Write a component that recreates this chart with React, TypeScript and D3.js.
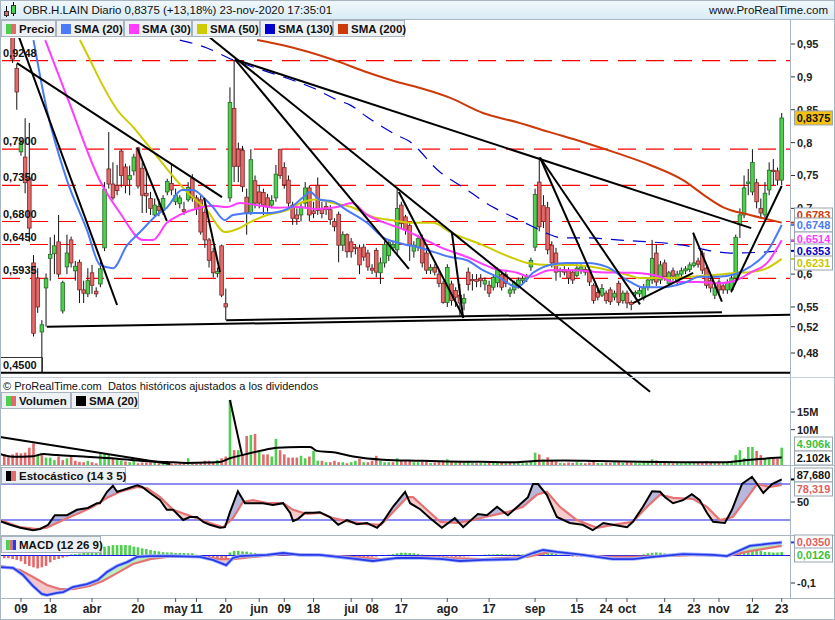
import React from 'react';
import * as d3 from 'd3';

// ---------- DATA ----------
const FIRST_K = -2; // index of first candle on the trading-day axis (k=184 is 23-nov-2020)
// [open, high, low, close]
const CANDLES: [number, number, number, number][] = [
  [1.00, 1.02, 0.97, 0.98], [0.99, 1.00, 0.96, 0.97], [0.975, 0.98, 0.921, 0.927], [0.913, 0.92, 0.85, 0.877],
  [0.786, 0.805, 0.78, 0.80], [0.778, 0.837, 0.723, 0.739], [0.746, 0.83, 0.649, 0.67], [0.617, 0.629, 0.505, 0.51],
  [0.594, 0.609, 0.541, 0.55], [0.512, 0.53, 0.45, 0.523], [0.579, 0.601, 0.52, 0.593], [0.624, 0.656, 0.59, 0.63],
  [0.631, 0.66, 0.60, 0.643], [0.649, 0.69, 0.595, 0.60], [0.544, 0.59, 0.54, 0.587], [0.611, 0.66, 0.60, 0.632],
  [0.652, 0.657, 0.61, 0.617], [0.605, 0.62, 0.59, 0.612], [0.618, 0.622, 0.556, 0.576], [0.576, 0.59, 0.556, 0.571],
  [0.57, 0.609, 0.565, 0.59], [0.602, 0.614, 0.57, 0.583], [0.574, 0.58, 0.565, 0.57], [0.585, 0.621, 0.58, 0.608],
  [0.64, 0.74, 0.635, 0.729], [0.76, 0.816, 0.73, 0.737], [0.737, 0.77, 0.713, 0.716], [0.735, 0.766, 0.72, 0.727],
  [0.787, 0.79, 0.732, 0.75], [0.763, 0.768, 0.723, 0.735], [0.744, 0.765, 0.72, 0.75], [0.757, 0.783, 0.75, 0.778],
  [0.792, 0.793, 0.73, 0.734], [0.761, 0.77, 0.693, 0.72], [0.723, 0.76, 0.693, 0.719], [0.715, 0.725, 0.69, 0.70],
  [0.69, 0.715, 0.688, 0.705], [0.703, 0.714, 0.688, 0.697], [0.697, 0.72, 0.69, 0.715], [0.725, 0.745, 0.72, 0.741],
  [0.738, 0.766, 0.72, 0.728], [0.71, 0.73, 0.705, 0.72], [0.707, 0.72, 0.70, 0.716], [0.698, 0.71, 0.69, 0.695],
  [0.713, 0.74, 0.71, 0.732], [0.746, 0.752, 0.71, 0.716], [0.716, 0.72, 0.69, 0.699], [0.713, 0.72, 0.66, 0.664],
  [0.694, 0.713, 0.64, 0.652], [0.652, 0.655, 0.61, 0.621], [0.634, 0.64, 0.595, 0.602], [0.601, 0.61, 0.595, 0.604],
  [0.643, 0.645, 0.565, 0.568], [0.555, 0.578, 0.53, 0.55], [0.716, 0.884, 0.71, 0.861], [0.852, 0.9248, 0.74, 0.764],
  [0.79, 0.80, 0.74, 0.764], [0.788, 0.795, 0.725, 0.733], [0.717, 0.73, 0.66, 0.693], [0.693, 0.79, 0.69, 0.774],
  [0.742, 0.75, 0.70, 0.708], [0.725, 0.735, 0.70, 0.708], [0.724, 0.73, 0.69, 0.705], [0.716, 0.722, 0.695, 0.702],
  [0.705, 0.72, 0.70, 0.712], [0.716, 0.766, 0.71, 0.752], [0.79, 0.79, 0.745, 0.75], [0.762, 0.77, 0.73, 0.736],
  [0.743, 0.75, 0.70, 0.708], [0.705, 0.71, 0.675, 0.685], [0.69, 0.70, 0.675, 0.684], [0.69, 0.71, 0.68, 0.702],
  [0.708, 0.74, 0.70, 0.731], [0.731, 0.735, 0.68, 0.69], [0.696, 0.71, 0.685, 0.692], [0.735, 0.747, 0.69, 0.697],
  [0.70, 0.71, 0.685, 0.692], [0.703, 0.71, 0.69, 0.698], [0.698, 0.705, 0.675, 0.683], [0.68, 0.685, 0.665, 0.672],
  [0.691, 0.695, 0.618, 0.644], [0.644, 0.665, 0.635, 0.66], [0.66, 0.662, 0.625, 0.634], [0.649, 0.655, 0.625, 0.634],
  [0.641, 0.645, 0.63, 0.639], [0.64, 0.645, 0.60, 0.614], [0.641, 0.646, 0.62, 0.626], [0.632, 0.637, 0.605, 0.611],
  [0.609, 0.615, 0.60, 0.606], [0.636, 0.64, 0.595, 0.603], [0.602, 0.625, 0.585, 0.617], [0.617, 0.65, 0.61, 0.645],
  [0.628, 0.652, 0.62, 0.648], [0.64, 0.65, 0.635, 0.645], [0.637, 0.73, 0.63, 0.70], [0.705, 0.71, 0.67, 0.677],
  [0.687, 0.69, 0.66, 0.667], [0.674, 0.68, 0.62, 0.644], [0.635, 0.65, 0.625, 0.644], [0.641, 0.66, 0.635, 0.654],
  [0.654, 0.66, 0.61, 0.617], [0.632, 0.64, 0.60, 0.606], [0.606, 0.615, 0.60, 0.61], [0.61, 0.615, 0.598, 0.603],
  [0.60, 0.605, 0.58, 0.586], [0.586, 0.59, 0.555, 0.557], [0.557, 0.615, 0.55, 0.61], [0.585, 0.59, 0.552, 0.56],
  [0.575, 0.58, 0.55, 0.565], [0.568, 0.585, 0.535, 0.556], [0.556, 0.57, 0.545, 0.563], [0.603, 0.61, 0.575, 0.584],
  [0.592, 0.60, 0.575, 0.59], [0.592, 0.60, 0.58, 0.589], [0.593, 0.60, 0.58, 0.59], [0.585, 0.595, 0.575, 0.59],
  [0.583, 0.59, 0.565, 0.571], [0.58, 0.60, 0.575, 0.595], [0.587, 0.61, 0.58, 0.606], [0.599, 0.605, 0.575, 0.58],
  [0.599, 0.605, 0.58, 0.586], [0.571, 0.58, 0.565, 0.576], [0.576, 0.59, 0.57, 0.587], [0.583, 0.595, 0.578, 0.591],
  [0.59, 0.597, 0.585, 0.593], [0.593, 0.60, 0.588, 0.596], [0.611, 0.625, 0.605, 0.621], [0.641, 0.73, 0.635, 0.721],
  [0.74, 0.778, 0.665, 0.672], [0.704, 0.72, 0.67, 0.68], [0.701, 0.71, 0.63, 0.637], [0.644, 0.65, 0.61, 0.617],
  [0.632, 0.64, 0.59, 0.603], [0.604, 0.61, 0.595, 0.606], [0.607, 0.612, 0.598, 0.603], [0.605, 0.61, 0.585, 0.594],
  [0.603, 0.607, 0.585, 0.591], [0.598, 0.615, 0.595, 0.609], [0.606, 0.615, 0.60, 0.611], [0.607, 0.612, 0.598, 0.603],
  [0.606, 0.61, 0.582, 0.588], [0.583, 0.586, 0.555, 0.56], [0.572, 0.577, 0.56, 0.565], [0.568, 0.585, 0.565, 0.578],
  [0.571, 0.575, 0.555, 0.56], [0.576, 0.58, 0.553, 0.558], [0.565, 0.575, 0.56, 0.571], [0.586, 0.59, 0.552, 0.557],
  [0.56, 0.575, 0.555, 0.571], [0.571, 0.575, 0.548, 0.556], [0.557, 0.56, 0.545, 0.554], [0.57, 0.575, 0.565, 0.572],
  [0.57, 0.58, 0.565, 0.575], [0.564, 0.585, 0.56, 0.579], [0.58, 0.595, 0.575, 0.591], [0.591, 0.652, 0.585, 0.624],
  [0.632, 0.645, 0.582, 0.588], [0.591, 0.62, 0.585, 0.614], [0.617, 0.622, 0.59, 0.596], [0.586, 0.605, 0.58, 0.602],
  [0.605, 0.61, 0.59, 0.597], [0.59, 0.605, 0.585, 0.60], [0.60, 0.61, 0.595, 0.605], [0.605, 0.612, 0.60, 0.608],
  [0.607, 0.618, 0.603, 0.614], [0.613, 0.66, 0.61, 0.617], [0.62, 0.625, 0.61, 0.615], [0.632, 0.636, 0.60, 0.606],
  [0.609, 0.612, 0.578, 0.583], [0.59, 0.595, 0.572, 0.579], [0.568, 0.582, 0.562, 0.579], [0.588, 0.592, 0.57, 0.576],
  [0.582, 0.585, 0.57, 0.576], [0.576, 0.592, 0.57, 0.587], [0.576, 0.60, 0.572, 0.594], [0.594, 0.66, 0.59, 0.656],
  [0.675, 0.70, 0.655, 0.69], [0.69, 0.75, 0.685, 0.731], [0.738, 0.76, 0.72, 0.74], [0.725, 0.79, 0.72, 0.77],
  [0.739, 0.745, 0.70, 0.71], [0.70, 0.715, 0.685, 0.693], [0.69, 0.74, 0.685, 0.723], [0.728, 0.77, 0.72, 0.758],
  [0.758, 0.775, 0.735, 0.756], [0.757, 0.762, 0.735, 0.743], [0.743, 0.845, 0.735, 0.8375],
];

// volume in millions, same index as CANDLES
const VOLUME_M: number[] = [
  3.1, 2.4, 3.0, 3.5, 3.3, 3.5, 4.9, 6.1, 3.0, 3.0, 2.1, 2.1, 1.4, 2.4, 1.4, 1.9, 2.6, 1.2, 0.9, 0.8, 1.2, 0.8, 0.5,
  3.3, 3.3, 2.9, 1.9, 1.4, 1.2, 1.0, 0.8, 1.2, 0.5, 0.7, 0.7, 0.8, 0.8, 0.5, 0.8, 0.5, 0.4, 0.4, 0.5, 0.5, 1.9, 0.4,
  0.4, 0.5, 1.2, 1.2, 0.8, 1.4, 1.9, 2.4, 18.4, 4.2, 4.2, 3.0, 8.2, 8.5, 8.8, 4.2, 3.0, 3.0, 2.4, 7.4, 4.2, 3.0, 2.1,
  2.1, 2.1, 2.6, 1.9, 2.4, 4.0, 1.2, 1.2, 0.8, 0.8, 1.2, 0.8, 0.8, 0.5, 0.8, 1.2, 1.7, 0.8, 0.8, 1.2, 2.6, 1.2, 0.8,
  0.8, 0.8, 1.9, 1.2, 1.2, 1.2, 0.8, 0.8,
  1.0, 0.9, 0.6, 0.7, 0.9, 1.3, 1.6, 0.9, 0.8, 1.0, 0.7, 0.9, 0.6, 0.5, 0.6, 0.5, 0.7, 0.8, 0.9, 0.6, 0.5, 0.6, 0.7,
  0.6, 0.5, 0.6, 0.9, 3.5, 3.0, 1.6, 2.2,
  1.2, 1.0, 0.6, 0.5, 0.7, 0.6, 0.8, 0.6, 0.5, 0.7, 1.0, 0.6, 0.5, 0.7, 0.6, 0.8, 0.9, 0.6, 0.9, 0.7, 0.6, 0.5, 0.8, 0.9,
  1.6, 1.3, 0.8, 0.7, 0.6, 0.5, 0.6, 0.5, 0.6, 0.7, 0.9, 0.6, 0.9, 1.1, 0.8, 0.7, 0.8, 0.6, 0.7, 0.8,
  2.8, 4.2, 2.0, 5.1, 5.1, 4.0, 2.8, 1.7, 1.7, 1.7, 1.7, 4.906,
];

// MACD histogram, same index as CANDLES
const MACD_HIST: number[] = [
  -0.010, -0.010, -0.013, -0.016, -0.021, -0.031, -0.038, -0.043, -0.047, -0.043, -0.038, -0.025, -0.016, -0.013, -0.008, -0.004,
  0.004, 0.005, 0.007, 0.009, 0.009, 0.013, 0.016, 0.026, 0.032, 0.035, 0.038, 0.038, 0.038, 0.038, 0.037, 0.032, 0.030, 0.026,
  0.024, 0.020, 0.017, 0.015, 0.012, 0.011, 0.011, 0.009, 0.009, 0.009, 0.008, 0.008, 0.003,
  -0.006, -0.010, -0.010, -0.011, -0.013, -0.016, -0.013,
  0.011, 0.017, 0.017, 0.015, 0.014, 0.011, 0.009, 0.006,
  0.004, 0.003, 0.003, 0.004, 0.004, 0.003, 0.002, 0.001, 0.001, 0.001, 0.000, -0.003, -0.002, 0.001, 0.001, 0.000, -0.001,
  -0.003, -0.005, -0.005, -0.006, -0.006, -0.007, -0.007, -0.006, -0.006, -0.005, -0.004, -0.002, 0.001, 0.003,
  0.005, 0.008, 0.010, 0.010, 0.009, 0.008, 0.006, 0.003, 0.001, -0.002,
  -0.004, -0.005, -0.005, -0.004, -0.004, -0.005, -0.005, -0.004, -0.003, -0.001,
  0.001, 0.002, 0.003, 0.004, 0.004, 0.005, 0.005, 0.004, 0.004, 0.004, 0.004, 0.004, 0.006,
  0.010, 0.018, 0.020, 0.018, 0.015, 0.010, 0.006, 0.003,
  0.000, -0.002, -0.004, -0.004, -0.004, -0.003, -0.003, -0.004, -0.004, -0.004, -0.003,
  -0.004, -0.005, -0.005, -0.005, -0.004, -0.003, -0.001, 0.001,
  0.004, 0.008, 0.010, 0.011, 0.010, 0.008, 0.006, 0.004, 0.003, 0.002,
  0.002, 0.002, 0.002, 0.001, 0.000, -0.002, -0.003, -0.003, -0.002, -0.002, 0.000, 0.002,
  0.006, 0.010, 0.015, 0.020, 0.022, 0.021, 0.017, 0.013, 0.012, 0.011, 0.011, 0.0126,
];

// moving averages sampled as [k, price]
const SMA20: [number, number][] = [[5, 0.956], [8.2, 0.85], [13, 0.743], [17.8, 0.667], [20.9, 0.614], [24, 0.609], [27.4, 0.644], [30.5, 0.664], [34.5, 0.69], [36.9, 0.701], [40.5, 0.728], [43.2, 0.728], [45.6, 0.717], [47.9, 0.702], [50.8, 0.682], [52.7, 0.69], [57.5, 0.693], [61.6, 0.693], [66.4, 0.701], [69.5, 0.717], [71.2, 0.725], [73.5, 0.713], [76.4, 0.711], [80, 0.697], [84.8, 0.678], [88.6, 0.656], [92.7, 0.647], [97.5, 0.64], [104.7, 0.626], [108.7, 0.621], [112.5, 0.606], [116.6, 0.594], [120.7, 0.58], [124.5, 0.602], [128.5, 0.614], [132.6, 0.617], [137.4, 0.617], [142.2, 0.611], [147, 0.591], [150.8, 0.58], [155.6, 0.58], [160.4, 0.586], [164.4, 0.596], [168.5, 0.596], [172.3, 0.599], [176.4, 0.611], [180.5, 0.634], [184, 0.6748]];
const SMA30: [number, number][] = [[7.8, 0.956], [13.3, 0.865], [20.9, 0.742], [25.7, 0.693], [31.2, 0.652], [33.6, 0.652], [36.9, 0.678], [40, 0.69], [44.8, 0.701], [47.9, 0.704], [51.3, 0.702], [54.4, 0.708], [59.2, 0.704], [63.3, 0.701], [68, 0.702], [72.8, 0.699], [77.6, 0.702], [81.2, 0.708], [84.8, 0.69], [88.6, 0.679], [92.7, 0.67], [97.5, 0.656], [102.3, 0.641], [108.7, 0.626], [114.9, 0.609], [120.7, 0.602], [123.8, 0.596], [128.5, 0.606], [134, 0.606], [140.5, 0.603], [148.4, 0.602], [154.9, 0.596], [158, 0.588], [164.4, 0.588], [169.2, 0.586], [173.3, 0.591], [176.4, 0.602], [180.5, 0.617], [184, 0.6514]];
const SMA50: [number, number][] = [[16.1, 0.956], [18.5, 0.926], [20.9, 0.895], [25, 0.85], [28.8, 0.824], [32.9, 0.792], [37.7, 0.754], [41.7, 0.725], [46.5, 0.697], [50.8, 0.664], [53.9, 0.669], [56.8, 0.679], [60.9, 0.69], [65.6, 0.697], [69.5, 0.71], [72.8, 0.714], [76.7, 0.708], [81.5, 0.701], [86.2, 0.687], [91, 0.682], [95.8, 0.678], [100.6, 0.678], [104.7, 0.664], [112.5, 0.644], [119, 0.626], [123.1, 0.617], [128.5, 0.614], [134, 0.614], [140.5, 0.609], [147, 0.599], [150.1, 0.594], [156.6, 0.594], [162.1, 0.596], [168.5, 0.599], [173.3, 0.602], [176.4, 0.603], [180.5, 0.609], [184, 0.6231]];
const SMA130: [number, number][] = [[40, 0.956], [46.5, 0.944], [52.7, 0.926], [57.5, 0.915], [64.7, 0.9], [71.9, 0.883], [77.6, 0.865], [80.8, 0.857], [84.8, 0.839], [92.7, 0.809], [94.4, 0.804], [102.3, 0.755], [107.8, 0.732], [114.9, 0.702], [119.7, 0.687], [124.5, 0.672], [127.8, 0.662], [131.7, 0.655], [137.4, 0.655], [144.6, 0.652], [152.5, 0.649], [160.4, 0.644], [168.5, 0.634], [172.3, 0.632], [184, 0.6353]];
const SMA200: [number, number][] = [[58.5, 0.956], [64.7, 0.948], [76.7, 0.926], [84.8, 0.907], [92.7, 0.891], [97.5, 0.883], [104.7, 0.868], [112.5, 0.845], [120.7, 0.831], [128.5, 0.816], [136.4, 0.801], [144.6, 0.784], [152.5, 0.766], [160.4, 0.743], [166.1, 0.717], [169.9, 0.702], [176.4, 0.69], [184, 0.6783]];

// hand-drawn lines [k1, price1, k2, price2]
const TRENDLINES: [number, number, number, number][] = [
  [0, 0.987, 25, 0.553], [1.05, 0.921, 50.1, 0.717], [29.8, 0.792, 36.9, 0.681], [45.8, 0.716, 49.6, 0.603],
  [53.2, 0.9265, 176.7, 0.67], [53.2, 0.9265, 94.8, 0.608], [45.8, 0.967, 152.5, 0.421], [92.4, 0.725, 107.8, 0.535],
  [105.1, 0.663, 107.8, 0.533], [126.2, 0.777, 140.5, 0.571], [126.2, 0.777, 150.1, 0.554], [148.4, 0.556, 162.8, 0.602],
  [162.8, 0.663, 169.7, 0.558], [171.9, 0.573, 184, 0.734], [8.2, 0.52, 186, 0.538], [51.1, 0.53, 169.7, 0.542],
];
const LOW_LINE = 0.45;
const LEVELS = [0.9248, 0.79, 0.735, 0.68, 0.645, 0.5935];
const LEVEL_LABELS = ['0,9248', '0,7900', '0,7350', '0,6800', '0,6450', '0,5935'];
const PRICE_TICKS = [0.95, 0.9, 0.85, 0.8, 0.75, 0.7, 0.6, 0.55, 0.52, 0.48];

const VOL_SMA20: [number, number][] = [[-3, 3.1], [0, 2.35], [4.9, 2.5], [7.3, 3.1], [10.6, 2.8], [16.9, 2.4], [25, 1.8], [30.5, 1.2], [36.9, 0.85], [41.7, 0.6], [46.5, 0.7], [49.6, 0.85], [52, 1.9], [54.9, 2.8], [59.2, 4.0], [63.3, 4.9], [68.8, 5.1], [71.2, 5.1], [72.8, 4.0], [76.7, 3.6], [81.5, 2.4], [88.6, 1.5], [97.5, 1.2], [104, 1.0], [112, 0.9], [120, 0.8], [126, 1.2], [132, 1.3], [140, 1.1], [150, 0.9], [160, 0.8], [170, 0.8], [176, 1.4], [180, 1.8], [184, 2.102]];
const VOL_LINES: [number, number, number, number][] = [[-3, 7.9, 37.7, 0.3], [52, 18.4, 54.9, 2.8]];
const VOL_TICKS = [15, 10];

const STOCH_K: [number, number][] = [[-3, 18], [-0.6, 12], [1.8, 7], [4.9, 3], [6.6, 5], [8.5, 12], [10.1, 28], [13, 28], [15.4, 37], [18, 40], [20.2, 48], [20.9, 48], [22.6, 67], [24, 77], [25, 67], [26.4, 70], [29.8, 78], [31, 75], [32.9, 65], [35.3, 53], [36.9, 37], [38.4, 37], [40.8, 20], [42.4, 25], [44.1, 25], [45.6, 17], [47.2, 12], [49.6, 7], [50.8, 8], [52, 33], [53.9, 68], [55.6, 48], [57.5, 48], [59.9, 48], [62.3, 45], [64.7, 48], [66.4, 32], [67.1, 18], [68.3, 22], [70, 32], [71.9, 32], [73.5, 33], [75.9, 25], [77.9, 12], [80, 20], [82.4, 13], [84.8, 15], [87.2, 7], [88.6, 17], [91, 42], [93.9, 67], [95.1, 48], [97.5, 38], [99.9, 23], [102.7, 7], [105.8, 23], [107.8, 8], [111.3, 30], [113.5, 28], [115.9, 42], [118.5, 28], [120.9, 43], [123.3, 58], [124.5, 80], [125.7, 80], [127.8, 62], [130.2, 25], [133.3, 15], [136.4, 12], [138.8, 3], [141.3, 15], [143.6, 12], [147, 8], [148.4, 17], [150.8, 42], [153, 68], [154.9, 67], [156.1, 58], [158, 48], [160.4, 53], [162.5, 63], [164.4, 53], [166.1, 32], [167.6, 17], [170.4, 15], [172.1, 37], [174.5, 80], [176.9, 92], [179.6, 65], [181.7, 80], [184, 87.68]];
const STOCH_D: [number, number][] = [[-3, 20], [1.8, 8], [5.8, 5], [8.2, 7], [10.6, 15], [13, 23], [16.1, 32], [19.2, 42], [22.6, 57], [25.7, 67], [29.8, 75], [32.2, 73], [35.3, 58], [38.4, 37], [43.2, 25], [47.2, 15], [50.3, 8], [52.7, 23], [55.1, 50], [57.5, 53], [60.9, 48], [64.7, 48], [67.1, 37], [70.4, 30], [73.5, 32], [76.7, 23], [80.8, 17], [84.8, 13], [88.1, 12], [91, 33], [94.4, 58], [95.8, 58], [99.1, 37], [102.3, 17], [106.3, 15], [110.1, 20], [114.2, 27], [118.3, 33], [122.1, 42], [125.4, 62], [127.8, 67], [130.9, 42], [135, 20], [139.8, 7], [143.6, 12], [148.4, 17], [151.8, 42], [154.9, 62], [158, 57], [162.8, 55], [166.1, 42], [169.2, 20], [172.3, 25], [175.7, 57], [178.1, 80], [181.2, 75], [184, 78.32]];

const MACD_LINE: [number, number][] = [[-3, -0.042], [0.1, -0.045], [2.5, -0.071], [4.9, -0.111], [7, -0.14], [8.2, -0.144], [10.6, -0.136], [12.1, -0.133], [14.4, -0.115], [17.8, -0.104], [20.4, -0.089], [22.6, -0.06], [25, -0.038], [27.4, -0.024], [29.8, -0.005], [32.9, -0.002], [38.4, -0.002], [44.8, -0.005], [47.9, -0.016], [51.1, -0.035], [52.7, -0.009], [54.4, -0.002], [60.9, 0.002], [64.7, 0.009], [68.8, 0.002], [73.5, 0.002], [80, -0.009], [86.2, -0.02], [92, -0.009], [97.5, -0.009], [103, -0.013], [107, -0.02], [112.5, -0.016], [120.7, -0.013], [124.5, 0.009], [126.9, 0.02], [130.2, 0.013], [136.4, 0.002], [143.6, -0.013], [148.4, -0.013], [153.2, -0.005], [160.4, 0.005], [167.6, 0.002], [170.9, -0.002], [176.4, 0.035], [180.5, 0.042], [184, 0.0476]];
const MACD_SIGNAL: [number, number][] = [[-3, -0.038], [1.8, -0.053], [4.9, -0.078], [8.2, -0.107], [11.3, -0.122], [14.4, -0.122], [18.5, -0.111], [21.6, -0.093], [25, -0.064], [28.8, -0.031], [32.9, -0.013], [36.9, -0.005], [44.8, -0.005], [49.6, -0.013], [52.7, -0.013], [57.5, -0.005], [64.7, 0.005], [72.8, 0.002], [80.8, -0.005], [88.1, -0.013], [97.5, -0.005], [104.7, -0.009], [112.5, -0.013], [123.1, -0.005], [128.5, 0.013], [134, 0.005], [142.2, -0.005], [148.4, -0.005], [154.9, -0.002], [164.4, 0.002], [170.9, -0.002], [176.4, 0.016], [184, 0.035]];

const X_LABELS: [number, string][] = [[2, '09'], [9, '18'], [19, 'abr'], [30, '20'], [39, 'may'], [44, '11'], [51, '20'], [59, 'jun'], [65, '09'], [72, '18'], [81, 'jul'], [86, '08'], [93, '17'], [104, 'ago'], [114, '17'], [125, 'sep'], [135, '15'], [142, '24'], [147, 'oct'], [156, '14'], [163, '23'], [169, 'nov'], [177, '12'], [184, '23']];

const C_GREEN = '#4fcf4f';
const C_RED = '#e26a6a';
const C_SMA20 = '#4a7af8';
const C_SMA30 = '#ff3cff';
const C_SMA50 = '#cccc00';
const C_SMA130 = '#0000cc';
const C_SMA200 = '#cc3a0a';
const FONT = 'Liberation Sans, Arial, sans-serif';

const fmt = (v: number) => String(v).replace('.', ',');

export default function App() {
  const x = d3.scaleLinear().domain([0, 184]).range([12.6, 781.7]);
  const yP = d3.scaleLinear().domain([0.48, 0.95]).range([353, 44]);
  const yV = d3.scaleLinear().domain([0, 15]).range([465, 412]);
  const yS = d3.scaleLinear().domain([20, 80]).range([520, 484]);
  const yM = d3.scaleLinear().domain([-0.1, 0]).range([583, 555.5]);
  const PR = 790;

  const lineOf = (pts: [number, number][], ys: any, curve: any = d3.curveMonotoneX) =>
    d3.line<[number, number]>().x(d => x(d[0])).y(d => ys(d[1])).curve(curve)(pts) || '';

  const fillBetween = (a: [number, number][], b: [number, number][], ys: any, top: number, bottom: number, id: string, cAbove: string, cBelow: string) => {
    const A = a.map(d => [x(d[0]), ys(d[1])] as [number, number]);
    const B = b.map(d => [x(d[0]), ys(d[1])] as [number, number]);
    const poly = 'M' + A.concat(B.slice().reverse()).map(p => p.join(',')).join('L') + 'Z';
    const bl = 'M' + B.map(p => p.join(',')).join('L');
    const above = bl + `L${B[B.length - 1][0]},${top}L${B[0][0]},${top}Z`;
    const below = bl + `L${B[B.length - 1][0]},${bottom}L${B[0][0]},${bottom}Z`;
    return (
      <g>
        <defs>
          <clipPath id={id + 'a'}><path d={above} /></clipPath>
          <clipPath id={id + 'b'}><path d={below} /></clipPath>
        </defs>
        <path d={poly} fill={cAbove} clipPath={`url(#${id}a)`} />
        <path d={poly} fill={cBelow} clipPath={`url(#${id}b)`} />
      </g>
    );
  };

  const legendItem = (bx: number, by: number, w: number, label: string, colors: string[], key: string) => (
    <g key={key}>
      <rect x={bx + 0.5} y={by + 0.5} width={w} height={16} fill="#eef1f4" stroke="#a9b4be" />
      {colors.map((c, i) => (
        <rect key={i} x={bx + 5 + (i * 10) / colors.length} y={by + 4} width={10 / colors.length} height={10} fill={c} />
      ))}
      <text x={bx + 18} y={by + 13} fontSize={11.5} fontWeight="bold" fill="#111">{label}</text>
    </g>
  );

  const valueBox = (cy: number, text: string, color: string, fill = '#ffffff', key?: string) => (
    <g key={key || text}>
      <rect x={794.5} y={cy - 7} width={38} height={14} fill={fill} stroke="#9aa4ae" />
      <text x={813.5} y={cy + 4} textAnchor="middle" fontSize={11} fontWeight="bold" fill={color}>{text}</text>
    </g>
  );

  const last = (pts: [number, number][]) => pts[pts.length - 1][1];

  return (
    <svg width={835} height={620} style={{ position: 'absolute', left: 0, top: 0, background: '#fff' }} fontFamily={FONT}>
      <defs>
        <linearGradient id="hdr" x1="0" y1="0" x2="0" y2="1">
          <stop offset="0" stopColor="#f1f8fc" />
          <stop offset="1" stopColor="#d9ecf6" />
        </linearGradient>
        <clipPath id="mainClip"><rect x={0} y={38} width={PR} height={339} /></clipPath>
        <clipPath id="trendClip"><rect x={0} y={38} width={PR} height={360} /></clipPath>
        <clipPath id="volClip"><rect x={0} y={378} width={PR} height={87} /></clipPath>
        <clipPath id="stClip"><rect x={0} y={466} width={PR} height={69} /></clipPath>
        <clipPath id="mdClip"><rect x={0} y={536} width={PR} height={62} /></clipPath>
      </defs>

      {/* header */}
      <rect x={0} y={0} width={835} height={19} fill="url(#hdr)" />
      <line x1={0} x2={835} y1={19.5} y2={19.5} stroke="#a8b6c2" />
      <line x1={6.5} x2={6.5} y1={6} y2={17} stroke="#000" />
      <rect x={4.5} y={11.5} width={4} height={4} fill={C_RED} stroke="#333" />
      <line x1={13.5} x2={13.5} y1={2} y2={16} stroke="#000" />
      <rect x={11.5} y={5.5} width={4} height={8} fill={C_GREEN} stroke="#333" />
      <text x={23} y={14} fontSize={11.5} fill="#111">OBR.H.LAIN Diario 0,8375 (+13,18%) 23-nov-2020 17:35:01</text>
      <text x={828} y={14} fontSize={11.5} fill="#111" textAnchor="end">www.ProRealTime.com</text>

      {/* legend */}
      {legendItem(1, 20, 54, 'Precio', [C_GREEN, C_RED], 'l0')}
      {legendItem(56, 20, 67, 'SMA (20)', [C_SMA20], 'l1')}
      {legendItem(124, 20, 67, 'SMA (30)', [C_SMA30], 'l2')}
      {legendItem(192, 20, 67, 'SMA (50)', [C_SMA50], 'l3')}
      {legendItem(260, 20, 72, 'SMA (130)', [C_SMA130], 'l4')}
      {legendItem(333, 20, 71, 'SMA (200)', [C_SMA200], 'l5')}

      {/* main panel */}
      <g clipPath="url(#mainClip)">
        {LEVELS.map((v, i) => (
          <line key={i} x1={2} x2={PR} y1={yP(v)} y2={yP(v)} stroke="#ff0000" strokeWidth={1.2} strokeDasharray="18,10" />
        ))}
        {CANDLES.map((c, i) => {
          const k = i + FIRST_K;
          const cx = x(k);
          const [o, h, l, cl] = c;
          const up = cl >= o;
          const top = yP(Math.max(o, cl));
          const bot = yP(Math.min(o, cl));
          return (
            <g key={i}>
              <line x1={cx} x2={cx} y1={yP(h)} y2={yP(l)} stroke="#111" strokeWidth={1} />
              <rect x={cx - 1.8} y={top} width={3.6} height={Math.max(1.2, bot - top)} fill={up ? C_GREEN : C_RED} stroke={up ? '#246b24' : '#7a2626'} strokeWidth={0.8} />
            </g>
          );
        })}
        <path d={lineOf(SMA200, yP)} fill="none" stroke={C_SMA200} strokeWidth={2} />
        <path d={lineOf(SMA130, yP)} fill="none" stroke={C_SMA130} strokeWidth={1.2} strokeDasharray="13,9" />
        <path d={lineOf(SMA50, yP)} fill="none" stroke={C_SMA50} strokeWidth={2} />
        <path d={lineOf(SMA30, yP)} fill="none" stroke={C_SMA30} strokeWidth={2} />
        <path d={lineOf(SMA20, yP)} fill="none" stroke={C_SMA20} strokeWidth={2} />
        <line x1={0} x2={PR} y1={yP(LOW_LINE)} y2={yP(LOW_LINE)} stroke="#000" strokeWidth={2} />
      </g>
      <g clipPath="url(#trendClip)">
        {TRENDLINES.map((t, i) => (
          <line key={i} x1={x(t[0])} y1={yP(t[1])} x2={x(t[2])} y2={yP(t[3])} stroke="#000" strokeWidth={2} />
        ))}
      </g>
      {LEVEL_LABELS.map((s, i) => (
        <text key={i} x={3} y={yP(LEVELS[i]) - 4} fontSize={11} fontWeight="bold" fill="#111">{s}</text>
      ))}
      <path d={`M0,357.5H42.5V372`} fill="none" stroke="#333" strokeWidth={1} />
      <text x={3} y={369} fontSize={11} fontWeight="bold" fill="#111">0,4500</text>

      {/* right price axis */}
      <line x1={790.5} x2={790.5} y1={20} y2={598} stroke="#a8b6c2" />
      {PRICE_TICKS.map((v, i) => (
        <g key={i}>
          <line x1={791} x2={795} y1={yP(v)} y2={yP(v)} stroke="#333" />
          <text x={797} y={yP(v) + 4} fontSize={11} fontWeight="bold" fill="#222">{fmt(v)}</text>
        </g>
      ))}
      <line x1={791} x2={795} y1={yP(0.65)} y2={yP(0.65)} stroke="#333" />
      {[[last(SMA200), C_SMA200], [last(SMA20), C_SMA20], [last(SMA30), C_SMA30], [last(SMA130), C_SMA130], [last(SMA50), C_SMA50]].map((d: any, i) => (
        <line key={i} x1={791} x2={795} y1={yP(d[0])} y2={yP(d[0])} stroke={d[1]} strokeWidth={2} />
      ))}
      {valueBox(yP(CANDLES[CANDLES.length - 1][3]), '0,8375', '#111', '#f5c211')}
      {valueBox(215, '0,6783', C_SMA200)}
      {valueBox(225, '0,6748', C_SMA20)}
      {valueBox(239, '0,6514', C_SMA30)}
      {valueBox(251, '0,6353', C_SMA130)}
      {valueBox(263, '0,6231', '#c8c800')}

      {/* copyright + volume panel */}
      <line x1={0} x2={835} y1={377.5} y2={377.5} stroke="#c4ced8" />
      <text x={3} y={390} fontSize={11} fill="#111" style={{ whiteSpace: 'pre' }}>© ProRealTime.com  Datos históricos ajustados a los dividendos</text>
      <g clipPath="url(#volClip)">
        {VOLUME_M.map((v, i) => {
          const k = i + FIRST_K;
          const up = i === 0 ? false : CANDLES[i][3] >= CANDLES[i - 1][3];
          return <rect key={i} x={x(k) - 1.3} y={yV(v)} width={2.6} height={465 - yV(v)} fill={up ? C_GREEN : C_RED} />;
        })}
        <path d={lineOf(VOL_SMA20, yV)} fill="none" stroke="#000" strokeWidth={2} />
        {VOL_LINES.map((t, i) => (
          <line key={i} x1={x(t[0])} y1={yV(t[1])} x2={x(t[2])} y2={yV(t[3])} stroke="#000" strokeWidth={2} />
        ))}
      </g>
      {legendItem(1, 392, 69, 'Volumen', [C_GREEN, C_RED], 'v0')}
      {legendItem(71, 392, 67, 'SMA (20)', ['#000'], 'v1')}
      {VOL_TICKS.map((v, i) => (
        <g key={i}>
          <line x1={791} x2={795} y1={yV(v)} y2={yV(v)} stroke="#333" />
          <text x={797} y={yV(v) + 4} fontSize={11} fontWeight="bold" fill="#222">{v}M</text>
        </g>
      ))}
      {valueBox(444, '4.906k', '#3cbf3c', '#fff', 'vb1')}
      {valueBox(458, '2.102k', '#111', '#fff', 'vb2')}
      <line x1={0} x2={835} y1={465.5} y2={465.5} stroke="#a8b6c2" />

      {/* stochastic */}
      <g clipPath="url(#stClip)">
        {fillBetween(STOCH_K, STOCH_D, yS, 466, 535, 'st', '#b8b8dc', '#f6cccc')}
        <line x1={0} x2={PR} y1={yS(80)} y2={yS(80)} stroke="#1a1ae6" strokeWidth={1.2} />
        <line x1={0} x2={PR} y1={yS(20)} y2={yS(20)} stroke="#1a1ae6" strokeWidth={1.2} />
        <path d={lineOf(STOCH_D, yS, d3.curveLinear)} fill="none" stroke="#e57373" strokeWidth={2.2} />
        <path d={lineOf(STOCH_K, yS, d3.curveLinear)} fill="none" stroke="#000" strokeWidth={2} />
      </g>
      {legendItem(1, 467, 124, 'Estocástico (14 3 5)', ['#000', C_RED], 's0')}
      <line x1={791} x2={795} y1={yS(50)} y2={yS(50)} stroke="#333" />
      <text x={797} y={yS(50) + 4} fontSize={11} fontWeight="bold" fill="#222">50</text>
      <line x1={791} x2={795} y1={yS(87.68)} y2={yS(87.68)} stroke="#000" strokeWidth={2} />
      {valueBox(475, '87,680', '#111', '#fff', 'sb1')}
      {valueBox(489, '78,319', '#e06060', '#fff', 'sb2')}
      <line x1={0} x2={835} y1={535.5} y2={535.5} stroke="#a8b6c2" />

      {/* MACD */}
      <g clipPath="url(#mdClip)">
        {MACD_HIST.map((v, i) => {
          const k = i + FIRST_K;
          const y0 = yM(0);
          const y1 = yM(v);
          return <rect key={i} x={x(k) - 1.3} y={Math.min(y0, y1)} width={2.6} height={Math.abs(y1 - y0)} fill={v >= 0 ? C_GREEN : C_RED} />;
        })}
        {fillBetween(MACD_LINE, MACD_SIGNAL, yM, 536, 598, 'md', '#bdefb8', '#f6c6c6')}
        <line x1={0} x2={PR} y1={yM(0)} y2={yM(0)} stroke="#1a1ae6" strokeWidth={1.2} />
        <path d={lineOf(MACD_SIGNAL, yM, d3.curveLinear)} fill="none" stroke="#e57373" strokeWidth={2.2} />
        <path d={lineOf(MACD_LINE, yM, d3.curveLinear)} fill="none" stroke="#9db3ff" strokeWidth={3.5} />
        <path d={lineOf(MACD_LINE, yM, d3.curveLinear)} fill="none" stroke="#2a3ae8" strokeWidth={1.8} />
      </g>
      {legendItem(1, 536, 99, 'MACD (12 26 9)', [C_GREEN, C_RED, '#2a3ae8'], 'm0')}
      <line x1={791} x2={795} y1={yM(-0.1)} y2={yM(-0.1)} stroke="#333" />
      <text x={797} y={yM(-0.1) + 4} fontSize={11} fontWeight="bold" fill="#222">-0,1</text>
      <line x1={791} x2={795} y1={yM(0.0476)} y2={yM(0.0476)} stroke="#2a3ae8" strokeWidth={2} />
      {valueBox(542, '0,0350', '#e06060', '#fff', 'mb1')}
      {valueBox(555, '0,0126', '#3cbf3c', '#fff', 'mb2')}
      <line x1={0} x2={835} y1={598.5} y2={598.5} stroke="#a8b6c2" />

      {/* x axis */}
      {X_LABELS.map(([k, s], i) => (
        <g key={i}>
          <line x1={x(k)} x2={x(k)} y1={598} y2={602} stroke="#555" />
          <text x={x(k)} y={613} textAnchor="middle" fontSize={12} fontWeight="bold" fill="#222">{s}</text>
        </g>
      ))}

      <rect x={0.5} y={0.5} width={834} height={619} fill="none" stroke="#a8b6c2" />
    </svg>
  );
}
